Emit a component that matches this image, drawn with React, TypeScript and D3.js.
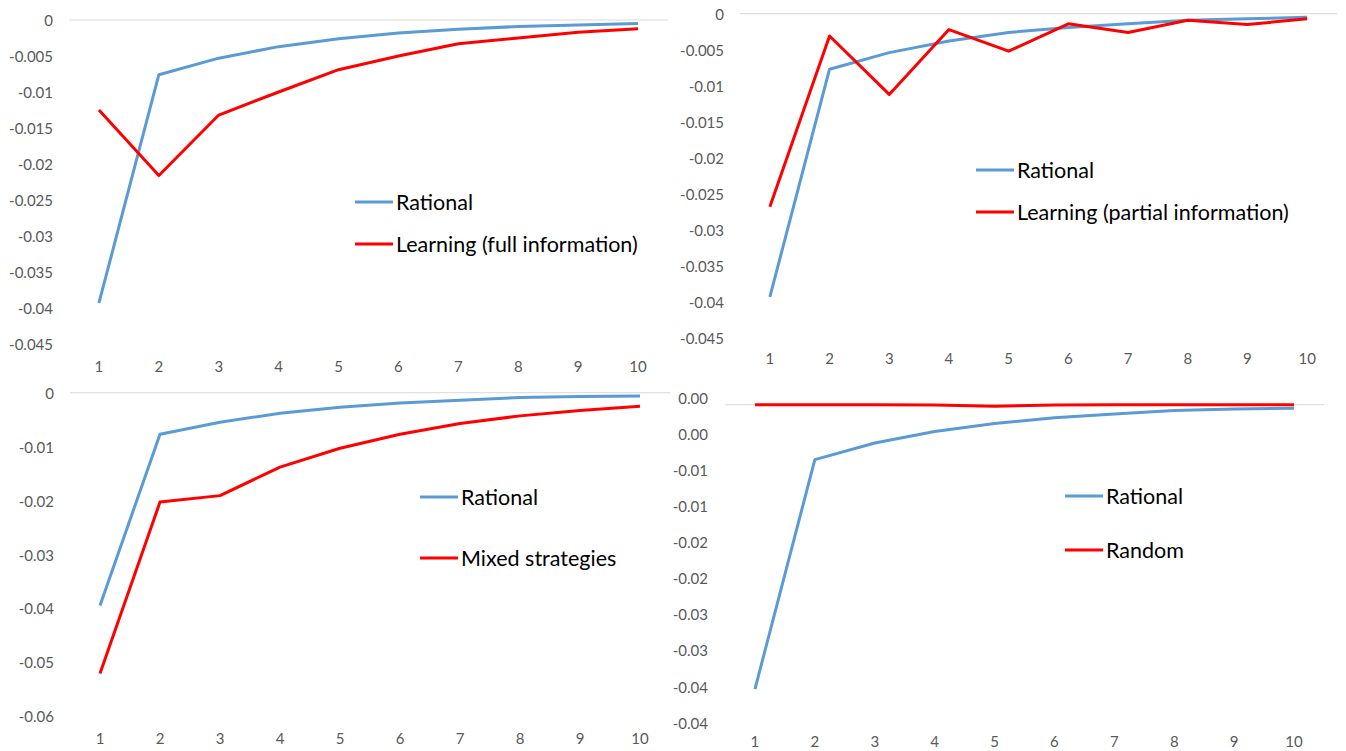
import React from "react";
import * as d3 from "d3";

const periods = ["1", "2", "3", "4", "5", "6", "7", "8", "9", "10"];

const rationalA = [-0.0393, -0.0076, -0.0053, -0.0037, -0.0026, -0.0018, -0.0013, -0.0009, -0.0007, -0.0005];
const learningFull = [-0.0125, -0.0216, -0.0132, -0.0100, -0.0069, -0.0050, -0.0033, -0.0025, -0.0017, -0.0012];

const rationalB = [-0.0393, -0.0077, -0.0054, -0.0038, -0.0026, -0.0019, -0.0014, -0.0009, -0.0007, -0.0005];
const learningPartial = [-0.0268, -0.0031, -0.0112, -0.0022, -0.0052, -0.0014, -0.0026, -0.0009, -0.0015, -0.0007];

const rationalC = [-0.0395, -0.0077, -0.0055, -0.0038, -0.0027, -0.0019, -0.0014, -0.0009, -0.0007, -0.0006];
const mixedStrategies = [-0.0521, -0.0203, -0.0191, -0.0138, -0.0103, -0.0077, -0.0057, -0.0043, -0.0033, -0.0025];

const rationalD = [-0.0394, -0.0076, -0.0053, -0.0037, -0.0026, -0.0018, -0.0013, -0.0008, -0.0006, -0.0005];
const randomSeries = [0, 0, 0, -0.00003, -0.0002, -0.00003, 0, 0, 0, 0];

const ticksFine = [0, -0.005, -0.01, -0.015, -0.02, -0.025, -0.03, -0.035, -0.04, -0.045];
const ticksCoarse = [0, -0.01, -0.02, -0.03, -0.04, -0.05, -0.06];
const ticksShifted = [0.001, -0.004, -0.009, -0.014, -0.019, -0.024, -0.029, -0.034, -0.039, -0.044];
const ticksShiftedLabels = ["0.00", "0.00", "-0.01", "-0.01", "-0.02", "-0.02", "-0.03", "-0.03", "-0.04", "-0.04"];

const legendRational = "Rational";
const legendFull = "Learning (full information)";
const legendPartial = "Learning (partial information)";
const legendMixed = "Mixed strategies";
const legendRandom = "Random";

const BLUE = "#5B9BD5";
const RED = "#FF0000";
const TICK = "#595959";
const GRID = "#D9D9D9";
const FONT = "Lato, 'Open Sans', sans-serif";

const generalFmt = (v: number) => String(+v.toFixed(4));

type PanelProps = {
  xRange: [number, number];
  yDomain: [number, number];
  yRange: [number, number];
  yTicks: number[];
  yLabels: string[];
  yLabelX: number;
  xLabelY: number;
  blue: number[];
  red: number[];
  redName: string;
  legendX: number;
  legendY1: number;
  legendY2: number;
};

function Panel(p: PanelProps) {
  const x = d3.scalePoint<string>().domain(periods).range(p.xRange).padding(0.5);
  const y = d3.scaleLinear().domain(p.yDomain).range(p.yRange);
  const line = d3
    .line<number>()
    .x((_, i) => x(periods[i]) as number)
    .y((d) => y(d));
  return (
    <g>
      <line x1={p.xRange[0]} x2={p.xRange[1]} y1={y(0)} y2={y(0)} stroke={GRID} strokeWidth={1} />
      {p.yTicks.map((t, i) => (
        <text
          key={"y" + i}
          x={p.yLabelX}
          y={y(t) + 1}
          dy="0.35em"
          textAnchor="end"
          fontSize={15}
          fill={TICK}
          fontFamily={FONT}
        >
          {p.yLabels[i]}
        </text>
      ))}
      {periods.map((c) => (
        <text
          key={"x" + c}
          x={x(c) as number}
          y={p.xLabelY}
          dy="0.35em"
          textAnchor="middle"
          fontSize={15}
          fill={TICK}
          fontFamily={FONT}
        >
          {c}
        </text>
      ))}
      <path d={line(p.blue) || ""} fill="none" stroke={BLUE} strokeWidth={3} strokeLinejoin="round" />
      <path d={line(p.red) || ""} fill="none" stroke={RED} strokeWidth={3} strokeLinejoin="round" />
      <line x1={p.legendX} x2={p.legendX + 38} y1={p.legendY1} y2={p.legendY1} stroke={BLUE} strokeWidth={3} />
      <text x={p.legendX + 41} y={p.legendY1} dy="0.35em" fontSize={21.5} fill="#000" fontFamily={FONT}>
        {legendRational}
      </text>
      <line x1={p.legendX} x2={p.legendX + 38} y1={p.legendY2} y2={p.legendY2} stroke={RED} strokeWidth={3} />
      <text x={p.legendX + 41} y={p.legendY2} dy="0.35em" fontSize={21.5} fill="#000" fontFamily={FONT}>
        {p.redName}
      </text>
    </g>
  );
}

export default function App() {
  return (
    <svg
      width={1346}
      height={751}
      style={{ position: "absolute", left: 0, top: 0, background: "#fff" }}
    >
      <rect width={1346} height={751} fill="#fff" />
      <Panel
        xRange={[69, 668]}
        yDomain={[0, -0.045]}
        yRange={[20, 344]}
        yTicks={ticksFine}
        yLabels={ticksFine.map(generalFmt)}
        yLabelX={53}
        xLabelY={367}
        blue={rationalA}
        red={learningFull}
        redName={legendFull}
        legendX={355}
        legendY1={202}
        legendY2={244}
      />
      <Panel
        xRange={[740, 1337]}
        yDomain={[0, -0.045]}
        yRange={[13.7, 338]}
        yTicks={ticksFine}
        yLabels={ticksFine.map(generalFmt)}
        yLabelX={724}
        xLabelY={359}
        blue={rationalB}
        red={learningPartial}
        redName={legendPartial}
        legendX={976}
        legendY1={170}
        legendY2={212}
      />
      <Panel
        xRange={[70, 670]}
        yDomain={[0, -0.06]}
        yRange={[392.7, 716]}
        yTicks={ticksCoarse}
        yLabels={ticksCoarse.map(generalFmt)}
        yLabelX={54}
        xLabelY={739}
        blue={rationalC}
        red={mixedStrategies}
        redName={legendMixed}
        legendX={420}
        legendY1={497}
        legendY2={558}
      />
      <Panel
        xRange={[725, 1324]}
        yDomain={[0.001, -0.044]}
        yRange={[397.5, 722.4]}
        yTicks={ticksShifted}
        yLabels={ticksShiftedLabels}
        yLabelX={708}
        xLabelY={742}
        blue={rationalD}
        red={randomSeries}
        redName={legendRandom}
        legendX={1065}
        legendY1={496}
        legendY2={550}
      />
    </svg>
  );
}
